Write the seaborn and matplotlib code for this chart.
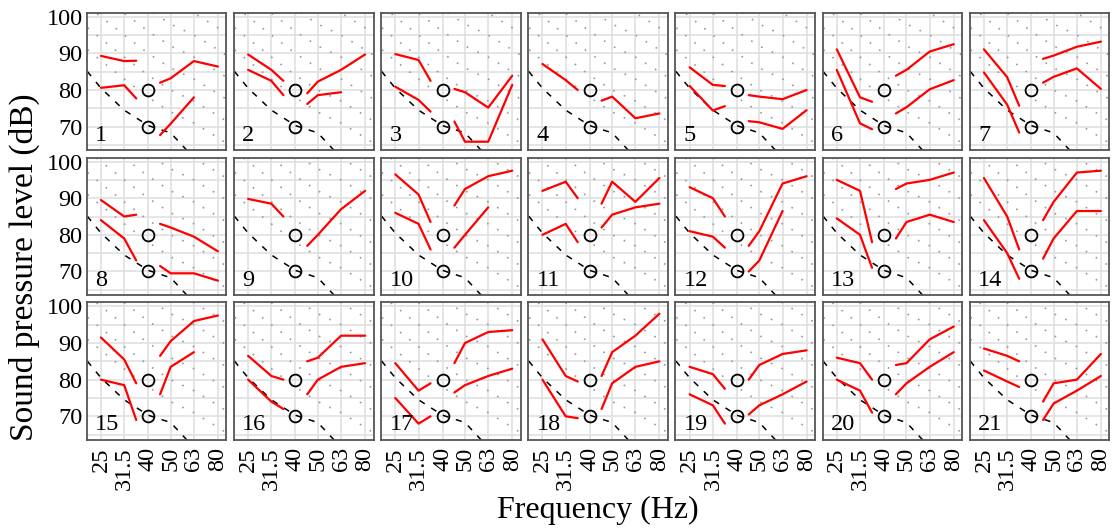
import numpy as np
import pandas as pd
import seaborn as sns
import matplotlib.pyplot as plt

# frequencies (Hz)
freq_left = [25, 31.5, 35.5]
freq_right = [45, 50, 63, 80]
freq_ticks = [25, 31.5, 40, 50, 63, 80]
tick_labels = ["25", "31.5", "40", "50", "63", "80"]
y_ticks = [70, 80, 90, 100]

# red curves, one row per panel (None = not drawn)
upper_left = [
    [89.3, 87.9, 88.0], [89.7, 85.5, 82.5], [89.8, 88.2, 82.5], [87.1, 82.7, 80.0],
    [86.2, 81.4, 81.1], [91.1, 78.0, 76.8], [91.1, 83.5, 75.7],
    [89.5, 85.0, 85.5], [89.8, 88.5, 85.0], [96.5, 91.0, 83.5], [92.0, 94.5, 90.0],
    [93.0, 90.0, 85.0], [95.0, 92.0, 78.0], [95.5, 85.0, 76.0],
    [91.5, 85.5, 79.0], [86.5, 81.0, 80.0], [84.5, 77.0, 79.0], [91.0, 81.0, 79.5],
    [83.5, 81.5, 77.5], [86.0, 84.5, 80.0], [88.5, 86.5, 85.0],
]
lower_left = [
    [80.6, 81.3, 77.7], [85.5, 82.5, 78.6], [80.9, 77.3, 74.1], None,
    [81.1, 74.4, 75.6], [85.5, 70.9, 69.3], [84.8, 76.0, 68.4],
    [84.0, 79.0, 73.0], None, [86.0, 83.0, 76.0], [80.0, 83.0, 78.0],
    [81.0, 79.5, 76.5], [84.5, 80.0, 71.0], [84.0, 75.0, 68.0],
    [80.0, 78.5, 69.0], [80.0, 74.0, 72.0], [75.0, 68.0, 70.0], [80.0, 70.0, 69.5],
    [76.0, 73.0, 68.0], [80.0, 77.0, 71.0], [82.5, 79.5, 78.0],
]
upper_right = [
    [82.0, 83.2, 87.9, 86.4], [79.1, 82.3, 85.5, 89.7], [80.3, 79.4, 75.2, 83.9], [77.1, 78.2, 72.3, 73.6],
    [78.6, 78.2, 77.5, 80.0], [83.9, 85.5, 90.5, 92.5], [88.5, 89.4, 91.8, 93.2],
    [83.0, 82.0, 79.5, 75.5], [77.0, 80.0, 87.0, 92.0], [88.0, 92.5, 96.0, 97.5], [88.5, 94.5, 89.0, 95.5],
    [77.0, 81.0, 94.0, 96.0], [92.5, 94.0, 95.0, 97.0], [84.0, 89.0, 97.0, 97.5],
    [86.5, 90.5, 96.0, 97.5], [85.0, 86.0, 92.0, 92.0], [84.5, 90.0, 93.0, 93.5], [81.0, 87.5, 92.0, 98.0],
    [80.0, 84.0, 87.0, 88.0], [84.0, 84.5, 91.0, 94.5], [74.0, 79.0, 80.0, 87.0],
]
lower_right = [
    [67.7, 70.8, 78.0, None], [76.2, 78.6, 79.4, None], [71.4, 65.9, 65.9, 81.4], None,
    [71.5, 71.2, 69.4, 74.5], [73.6, 75.3, 80.2, 82.7], [82.0, 83.6, 85.9, 80.3],
    [71.5, 69.5, 69.5, 67.5], None, [76.5, 80.0, 87.5, None], [82.0, 85.5, 87.5, 88.5],
    [70.0, 73.0, 86.5, None], [79.0, 83.5, 85.5, 83.5], [73.5, 79.0, 86.5, 86.5],
    [76.0, 83.5, 87.5, None], [76.0, 80.0, 83.5, 84.5], [76.5, 78.5, 81.0, 83.0], [72.0, 79.0, 83.5, 85.0],
    [70.5, 73.0, 76.0, 79.5], [76.0, 79.0, 83.5, 87.5], [69.0, 73.5, 77.0, 81.0],
]

# hearing threshold (dashed) and grey dotted contours
thr_freq = [20, 25, 31.5, 40, 50, 63, 80]
thr_spl = [88.0, 80.5, 74.5, 70.3, 68.3, 61.5, 55.0]
cont_freq = [20, 25, 31.5, 40, 50, 63, 80, 100]
contours = [
    [93, 88, 83, 78, 74, 71, 67, 63],
    [99, 94, 89, 84, 80, 77, 73, 69],
    [105, 100, 95, 90, 86, 83, 79, 75],
    [111, 106, 101, 96, 92, 89, 85, 81],
    [117, 112, 107, 102, 98, 95, 91, 87],
    [123, 118, 113, 108, 104, 101, 97, 93],
]

# reference tones at 40 Hz
ref_freq = [40, 40]
ref_spl = [80, 70]

rows = []
for i in range(21):
    for name, fr, vals in [("ul", freq_left, upper_left[i]), ("ll", freq_left, lower_left[i]),
                           ("ur", freq_right, upper_right[i]), ("lr", freq_right, lower_right[i])]:
        if vals is None:
            continue
        for f, v in zip(fr, vals):
            if v is not None:
                rows.append({"panel": i + 1, "seg": name, "freq": f, "spl": v})
df = pd.DataFrame(rows)

sns.set_theme(style="white")
plt.rcParams["font.family"] = ["Liberation Serif", "DejaVu Serif"]
plt.rcParams["text.color"] = "black"
plt.rcParams["xtick.color"] = "black"
plt.rcParams["ytick.color"] = "black"

fig, axes = plt.subplots(3, 7, figsize=(11.12, 5.29), dpi=100, sharex=True, sharey=True)
plt.subplots_adjust(left=0.078, right=0.9976, top=0.976, bottom=0.168, wspace=0.054, hspace=0.051)

for i, ax in enumerate(axes.flat):
    p = i + 1
    ax.set_xscale("log")
    for y in np.arange(65, 101, 5):
        ax.axhline(y, color="#e0e0e0", lw=1.2, zorder=0)
    for x in freq_ticks:
        ax.axvline(x, color="#e0e0e0", lw=1.2, zorder=0)
    for c in contours:
        ax.plot(cont_freq, c, color="#999999", lw=1.2, dashes=(1, 6), zorder=1)
    ax.plot(thr_freq, thr_spl, color="black", lw=1.1, dashes=(4, 5), zorder=2)
    sns.lineplot(data=df[df.panel == p], x="freq", y="spl", units="seg", estimator=None,
                 color="red", lw=1.6, ax=ax, legend=False, zorder=3)
    ax.plot(ref_freq, ref_spl, "o", mfc="none", mec="black", ms=8.5, mew=1.3, zorder=4)
    ax.text(0.06, 0.07, str(p), transform=ax.transAxes, fontsize=17.5, ha="left", va="baseline")

    ax.set_xlim(21.7, 87)
    ax.set_ylim(63.5, 101.1)
    ax.set_xticks(freq_ticks)
    ax.set_xticklabels(tick_labels)
    ax.minorticks_off()
    ax.set_yticks(y_ticks)
    ax.set_xlabel("")
    ax.set_ylabel("")
    ax.tick_params(direction="in", length=4, width=1, color="#444444", labelcolor="black",
                   labelsize=17.5, pad=3)
    ax.tick_params(axis="x", labelrotation=90, pad=5)
    for s in ax.spines.values():
        s.set_color("#555555")
        s.set_linewidth(1.3)

fig.text(0.022, 0.495, "Sound pressure level (dB)", rotation=90, ha="center", va="center", fontsize=24)
fig.text(0.538, 0.036, "Frequency (Hz)", ha="center", va="center", fontsize=23)

fig.savefig("out.png", dpi=100)
